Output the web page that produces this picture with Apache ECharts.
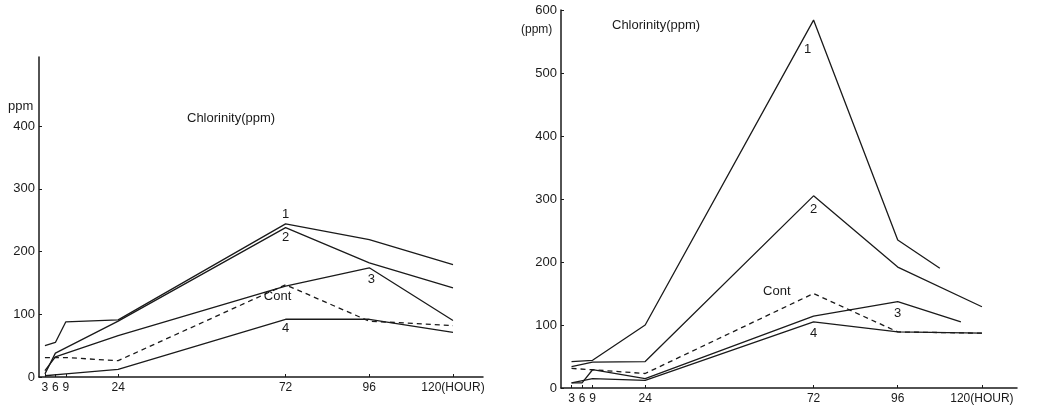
<!DOCTYPE html>
<html>
<head>
<meta charset="utf-8">
<script src="https://cdn.jsdelivr.net/npm/echarts@6/dist/echarts.min.js"></script>
<style>
  html, body { margin: 0; padding: 0; background: #fff; }
  #chart { width: 1054px; height: 409px; }
</style>
</head>
<body>
<div id="chart"></div>
<script>
// left panel (hours, ppm); null = no point drawn there
const hoursL = [3, 6, 9, 24, 72, 96, 120];
const left1 = [50, 55, 88, 91, 244, 219, 179];
const left2 = [5, 38, null, 89, 238, 182, 142];
const left3 = [10, 32, null, 66, 145, 174, 90];
const leftCont = [31, null, 31, 26, 147, 89, 82];
const left4 = [2, null, 5, 12, 92, 92, 71];

// right panel
const hoursR = [3, 6, 9, 24, 72, 96, 108, 114, 120];
const right1 = [42, null, 44, 100, 584, 235, 190, null, null];
const right2 = [34, null, 41, 42, 305, 192, null, null, 129];
const rightCont = [31, null, 29, 23, 150, 89, null, null, 87];
const right3 = [8, 8, 29, 15, 114, 137, null, 105, null];
const right4 = [8, null, 15, 12, 105, 89, null, null, 87];

const hourTicks = [3, 6, 9, 24, 72, 96, 120];
const yTicksL = [0, 100, 200, 300, 400];
const yTicksR = [0, 100, 200, 300, 400, 500, 600];

const ink = "#1a1a1a";
const font = "Liberation Sans";

const chart = echarts.init(document.getElementById("chart"));

// build [x,y] pairs, skip empty points, put the curve name on one point
function makeSeries(idx, hours, vals, name, labelHour, labelPos, dashed) {
  let data = [];
  hours.forEach((h, i) => {
    if (vals[i] == null) return;
    let item = { value: [h, vals[i]] };
    if (h === labelHour) {
      item.label = {
        show: true,
        formatter: name,
        position: labelPos.position,
        offset: labelPos.offset,
        color: ink,
        fontFamily: font,
        fontSize: 13,
      };
    }
    data.push(item);
  });
  return {
    type: "line",
    name: name,
    xAxisIndex: idx,
    yAxisIndex: idx,
    data: data,
    // symbol kept (size 0) so that the point label is drawn
    symbol: "circle",
    symbolSize: 0,
    showAllSymbol: true,
    silent: true,
    animation: false,
    lineStyle: {
      color: ink,
      width: 1.3,
      type: dashed ? [5, 4] : "solid",
    },
  };
}

function xAxisFor(idx, min, max) {
  return {
    type: "value",
    gridIndex: idx,
    min: min,
    max: max,
    splitLine: { show: false },
    axisLine: { lineStyle: { color: ink, width: 1.5 } },
    axisTick: { customValues: hourTicks, inside: true, length: 3, lineStyle: { color: ink } },
    axisLabel: {
      customValues: hourTicks,
      color: ink,
      fontFamily: font,
      fontSize: 12,
      margin: 5,
      formatter: (v) => (v === 120 ? "120(HOUR)" : String(v)),
    },
  };
}

function yAxisFor(idx, max, ticks) {
  return {
    type: "value",
    gridIndex: idx,
    min: 0,
    max: max,
    splitLine: { show: false },
    axisLine: { lineStyle: { color: ink, width: 1.5 } },
    axisTick: { customValues: ticks, inside: true, length: 3, lineStyle: { color: ink } },
    axisLabel: {
      customValues: ticks,
      color: ink,
      fontFamily: font,
      fontSize: 13,
      margin: 4,
    },
  };
}

const option = {
  backgroundColor: "#fff",
  animation: false,
  grid: [
    { left: 39, top: 57, width: 444, height: 320 },
    { left: 561, top: 10, width: 456, height: 378 },
  ],
  xAxis: [xAxisFor(0, 1.3, 128.6), xAxisFor(1, 0, 130)],
  yAxis: [yAxisFor(0, 510, yTicksL), yAxisFor(1, 600, yTicksR)],
  graphic: [
    { type: "text", left: 187, top: 112, style: { text: "Chlorinity(ppm)", fill: ink, font: "13px " + font } },
    { type: "text", left: 8, top: 100, style: { text: "ppm", fill: ink, font: "13px " + font } },
    { type: "text", left: 612, top: 19, style: { text: "Chlorinity(ppm)", fill: ink, font: "13px " + font } },
    { type: "text", left: 521, top: 24, style: { text: "(ppm)", fill: ink, font: "12px " + font } },
  ],
  series: [
    makeSeries(0, hoursL, left1, "1", 72, { position: "top", offset: [0, 2] }),
    makeSeries(0, hoursL, left2, "2", 72, { position: "bottom", offset: [0, -2] }),
    makeSeries(0, hoursL, left3, "3", 96, { position: "bottom", offset: [2, 0] }),
    makeSeries(0, hoursL, leftCont, "Cont", 72, { position: "bottom", offset: [-8, 0] }, true),
    makeSeries(0, hoursL, left4, "4", 72, { position: "bottom", offset: [0, -2] }),
    makeSeries(1, hoursR, right1, "1", 72, { position: "bottom", offset: [-6, 18] }),
    makeSeries(1, hoursR, right2, "2", 72, { position: "bottom", offset: [0, 2] }),
    makeSeries(1, hoursR, right3, "3", 96, { position: "bottom", offset: [0, 0] }),
    makeSeries(1, hoursR, rightCont, "Cont", 72, { position: "left", offset: [-18, -2] }, true),
    makeSeries(1, hoursR, right4, "4", 72, { position: "bottom", offset: [0, 0] }),
  ],
};

chart.setOption(option);
</script>
</body>
</html>
